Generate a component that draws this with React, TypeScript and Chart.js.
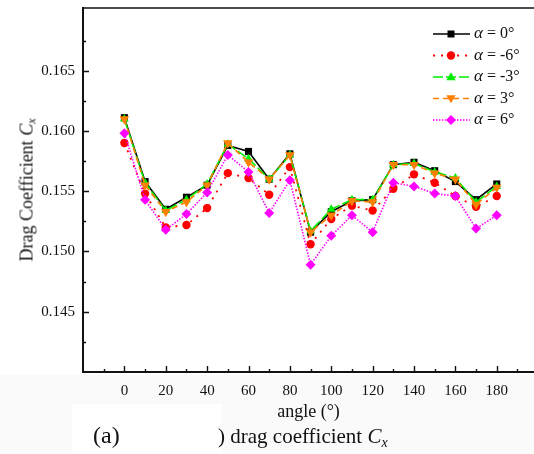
import React, { useEffect, useRef } from "react";
import { Chart, registerables } from "chart.js";

Chart.register(...registerables);

const angles = [0, 10, 20, 30, 40, 50, 60, 70, 80, 90, 100, 110, 120, 130, 140, 150, 160, 170, 180];
const alpha0 = [0.1611, 0.1558, 0.1535, 0.1545, 0.1555, 0.1588, 0.1583, 0.1560, 0.1581, 0.1516, 0.1533, 0.1542, 0.1543, 0.1572, 0.1574, 0.1567, 0.1558, 0.1543, 0.1556];
const alphaM6 = [0.1590, 0.1548, 0.1520, 0.1522, 0.1536, 0.1565, 0.1561, 0.1547, 0.1570, 0.1506, 0.1527, 0.1538, 0.1534, 0.1552, 0.1564, 0.1557, 0.1546, 0.1537, 0.1546];
const alphaM3 = [0.1610, 0.1557, 0.1534, 0.1543, 0.1556, 0.1589, 0.1577, 0.1560, 0.1580, 0.1517, 0.1535, 0.1543, 0.1543, 0.1572, 0.1573, 0.1566, 0.1561, 0.1541, 0.1554];
const alphaP3 = [0.1610, 0.1555, 0.1533, 0.1541, 0.1555, 0.1590, 0.1574, 0.1560, 0.1580, 0.1516, 0.1530, 0.1542, 0.1541, 0.1572, 0.1572, 0.1565, 0.1560, 0.1539, 0.1553];
const alphaP6 = [0.1598, 0.1543, 0.1518, 0.1531, 0.1549, 0.1580, 0.1566, 0.1532, 0.1559, 0.1489, 0.1513, 0.1530, 0.1516, 0.1557, 0.1554, 0.1548, 0.1546, 0.1519, 0.1530];

const seriesLabels = ["0°", "-6°", "-3°", "3°", "6°"];
const xTickValues = [0, 20, 40, 60, 80, 100, 120, 140, 160, 180];
const xMinorValues = [-10, 10, 30, 50, 70, 90, 110, 130, 150, 170, 190];
const yTickValues = [0.145, 0.15, 0.155, 0.16, 0.165];
const yMinorValues = [0.1425, 0.1475, 0.1525, 0.1575, 0.1625, 0.1675];

const SERIF = "'Liberation Serif', 'Times New Roman', serif";

type Marker = "square" | "circle" | "tri" | "invtri" | "diamond";
const markers: Marker[] = ["square", "circle", "tri", "invtri", "diamond"];

function drawMarker(ctx: CanvasRenderingContext2D, kind: Marker, x: number, y: number, color: string) {
  ctx.save();
  ctx.fillStyle = color;
  ctx.beginPath();
  if (kind === "square") {
    ctx.rect(x - 3.5, y - 3.5, 7, 7);
  } else if (kind === "circle") {
    ctx.arc(x, y, 4.2, 0, Math.PI * 2);
  } else if (kind === "tri") {
    ctx.moveTo(x, y - 4.8);
    ctx.lineTo(x + 4.6, y + 3.2);
    ctx.lineTo(x - 4.6, y + 3.2);
    ctx.closePath();
  } else if (kind === "invtri") {
    ctx.moveTo(x, y + 4.8);
    ctx.lineTo(x + 4.6, y - 3.2);
    ctx.lineTo(x - 4.6, y - 3.2);
    ctx.closePath();
  } else {
    ctx.moveTo(x, y - 5);
    ctx.lineTo(x + 5, y);
    ctx.lineTo(x, y + 5);
    ctx.lineTo(x - 5, y);
    ctx.closePath();
  }
  ctx.fill();
  ctx.restore();
}

const framePlugin = {
  id: "frameTicks",
  afterDraw(chart: any) {
    const { ctx, chartArea } = chart;
    const xs = chart.scales.x;
    const ys = chart.scales.y;
    ctx.save();
    ctx.strokeStyle = "#111";
    ctx.lineWidth = 1.6;
    ctx.beginPath();
    ctx.moveTo(chartArea.left - 1, chartArea.top);
    ctx.lineTo(chart.width, chartArea.top);
    ctx.stroke();
    ctx.lineWidth = 1.4;
    ctx.beginPath();
    xTickValues.forEach((v) => {
      const px = Math.round(xs.getPixelForValue(v)) + 0.5;
      ctx.moveTo(px, chartArea.bottom);
      ctx.lineTo(px, chartArea.bottom - 6);
    });
    xMinorValues.forEach((v) => {
      const px = Math.round(xs.getPixelForValue(v)) + 0.5;
      ctx.moveTo(px, chartArea.bottom);
      ctx.lineTo(px, chartArea.bottom - 3);
    });
    yTickValues.forEach((v) => {
      const py = Math.round(ys.getPixelForValue(v)) + 0.5;
      ctx.moveTo(chartArea.left, py);
      ctx.lineTo(chartArea.left + 6, py);
    });
    yMinorValues.forEach((v) => {
      const py = Math.round(ys.getPixelForValue(v)) + 0.5;
      ctx.moveTo(chartArea.left, py);
      ctx.lineTo(chartArea.left + 3, py);
    });
    ctx.stroke();

    const ds = chart.data.datasets;
    const lx0 = 433;
    const lx1 = 470;
    const mx = 451;
    ds.forEach((d: any, i: number) => {
      const y = 34 + i * 21.5;
      ctx.save();
      ctx.strokeStyle = d.borderColor;
      ctx.lineWidth = d.borderWidth;
      ctx.setLineDash(d.borderDash || []);
      ctx.beginPath();
      ctx.moveTo(lx0, y);
      ctx.lineTo(lx1, y);
      ctx.stroke();
      ctx.restore();
      drawMarker(ctx, markers[i], mx, y, d.borderColor);
      ctx.save();
      ctx.fillStyle = "#111";
      ctx.textBaseline = "middle";
      ctx.textAlign = "left";
      ctx.font = `italic 17px ${SERIF}`;
      ctx.fillText("α", 474, y);
      const w = ctx.measureText("α").width;
      ctx.font = `16px ${SERIF}`;
      ctx.fillText(" = " + seriesLabels[i], 474 + w, y);
      ctx.restore();
    });
    ctx.restore();
  },
};

const zeroPad = (s: any) => {
  s.paddingTop = 0;
  s.paddingBottom = 0;
  s.paddingLeft = 0;
  s.paddingRight = 0;
};

export default function App() {
  const canvasRef = useRef<HTMLCanvasElement | null>(null);

  useEffect(() => {
    const canvas = canvasRef.current;
    if (!canvas) return;
    const mk = (data: number[]) => angles.map((a, i) => ({ x: a, y: data[i] }));
    const chart = new Chart(canvas, {
      type: "line",
      data: {
        datasets: [
          {
            label: "α = 0°",
            data: mk(alpha0),
            borderColor: "#000000",
            backgroundColor: "#000000",
            borderWidth: 1.6,
            pointStyle: "rect",
            pointRadius: 5,
            pointBorderWidth: 0,
            order: 5,
          },
          {
            label: "α = -6°",
            data: mk(alphaM6),
            borderColor: "#ff0000",
            backgroundColor: "#ff0000",
            borderWidth: 1.8,
            borderDash: [2, 6],
            pointStyle: "circle",
            pointRadius: 4.2,
            pointBorderWidth: 0,
            order: 4,
          },
          {
            label: "α = -3°",
            data: mk(alphaM3),
            borderColor: "#00ee00",
            backgroundColor: "#00ee00",
            borderWidth: 1.6,
            borderDash: [10, 3],
            pointStyle: "triangle",
            pointRadius: 5,
            pointBorderWidth: 0,
            order: 3,
          },
          {
            label: "α = 3°",
            data: mk(alphaP3),
            borderColor: "#ff8000",
            backgroundColor: "#ff8000",
            borderWidth: 1.6,
            borderDash: [6, 4],
            pointStyle: "triangle",
            pointRotation: 180,
            pointRadius: 5.5,
            pointBorderWidth: 0,
            order: 2,
          },
          {
            label: "α = 6°",
            data: mk(alphaP6),
            borderColor: "#ff00ff",
            backgroundColor: "#ff00ff",
            borderWidth: 1.6,
            borderDash: [1.5, 1.5],
            pointStyle: "rectRot",
            pointRadius: 5,
            pointBorderWidth: 0,
            order: 1,
          },
        ],
      },
      options: {
        responsive: false,
        animation: false,
        devicePixelRatio: 1,
        layout: { autoPadding: false, padding: { top: 8, right: 0, left: 0, bottom: 0 } },
        plugins: { legend: { display: false }, tooltip: { enabled: false } },
        elements: { line: { tension: 0 } },
        scales: {
          x: {
            type: "linear",
            min: -20,
            max: 198,
            afterBuildTicks: (s: any) => {
              s.ticks = xTickValues.map((v) => ({ value: v }));
            },
            afterFit: (s: any) => {
              s.height = 82;
              zeroPad(s);
            },
            grid: { display: true, drawOnChartArea: false, drawTicks: false, color: "rgba(0,0,0,0)" },
            border: { display: true, color: "#111", width: 2 },
            ticks: {
              padding: 10,
              color: "#111",
              font: { family: SERIF, size: 15 },
              maxRotation: 0,
              autoSkip: false,
              callback: (v: any) => String(v),
            },
            title: {
              display: true,
              text: "angle (°)",
              color: "#111",
              font: { family: SERIF, size: 18 },
              padding: { top: 0, bottom: 31 },
            },
          },
          y: {
            type: "linear",
            min: 0.14,
            max: 0.1702,
            afterBuildTicks: (s: any) => {
              s.ticks = yTickValues.map((v) => ({ value: v }));
            },
            afterFit: (s: any) => {
              s.width = 83;
              zeroPad(s);
            },
            grid: { display: true, drawOnChartArea: false, drawTicks: false, color: "rgba(0,0,0,0)" },
            border: { display: true, color: "#111", width: 2 },
            ticks: {
              padding: 8,
              color: "#111",
              font: { family: SERIF, size: 15 },
              autoSkip: false,
              callback: (v: any) => Number(v).toFixed(3),
            },
          },
        },
      },
      plugins: [framePlugin],
    });
    return () => chart.destroy();
  }, []);

  return (
    <div
      style={{
        position: "fixed",
        left: 0,
        top: 0,
        width: 534,
        height: 454,
        background: "#fff",
        overflow: "hidden",
        fontFamily: SERIF,
        color: "#111",
      }}
    >
      <div style={{ position: "absolute", left: 0, top: 375, width: 534, height: 79, background: "#fafafa" }} />
      <div style={{ position: "absolute", left: 72, top: 404, width: 150, height: 50, background: "#ffffff" }} />
      <canvas
        ref={canvasRef}
        width={534}
        height={454}
        style={{ position: "absolute", left: 0, top: 0, display: "block", width: 534, height: 454 }}
      />
      <div
        style={{
          position: "absolute",
          left: 29,
          top: 190,
          transform: "translate(-50%, -50%) rotate(-90deg)",
          whiteSpace: "nowrap",
          fontSize: 18,
          lineHeight: "20px",
        }}
      >
        Drag Coefficient <i>C</i>
        <sub style={{ fontSize: 12, fontStyle: "italic", verticalAlign: "-3px" }}>x</sub>
      </div>
      <div
        style={{
          position: "absolute",
          left: 93,
          top: 421,
          whiteSpace: "nowrap",
          fontSize: 24,
          lineHeight: "28px",
        }}
      >
        (a)
      </div>
      <div
        style={{
          position: "absolute",
          left: 218,
          top: 423,
          whiteSpace: "nowrap",
          fontSize: 21,
          lineHeight: "26px",
        }}
      >
        ) drag coefficient <i>C</i>
        <sub style={{ fontSize: 14, fontStyle: "italic", verticalAlign: "-4px" }}>x</sub>
      </div>
    </div>
  );
}
